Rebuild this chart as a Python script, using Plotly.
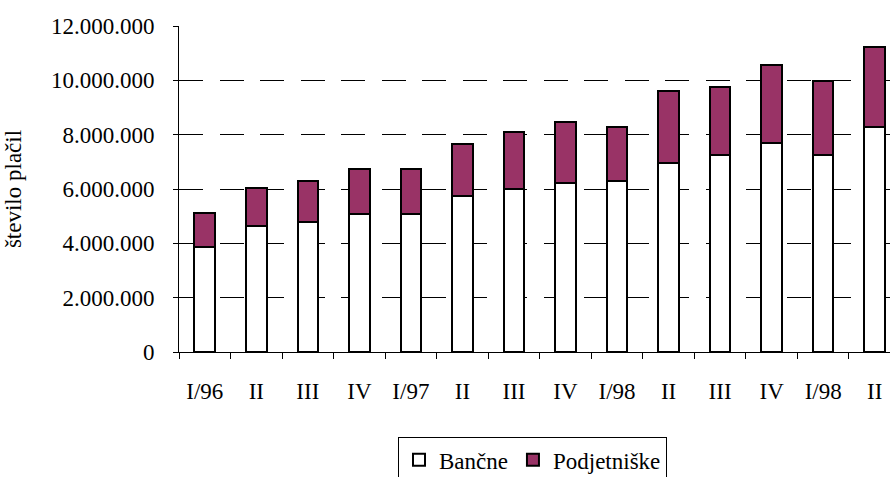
import plotly.graph_objects as go

categories = ["I/96", "II", "III", "IV", "I/97", "II", "III", "IV", "I/98", "II", "III", "IV", "I/98", "II"]
bancne = [3875000, 4640000, 4800000, 5080000, 5080000, 5760000, 5990000, 6230000, 6290000, 6970000, 7270000, 7710000, 7270000, 8300000]
totals = [5107000, 6050000, 6290000, 6730000, 6730000, 7640000, 8080000, 8450000, 8300000, 9590000, 9740000, 10550000, 9960000, 11240000]
podjetniske = [t - b for t, b in zip(totals, bancne)]
y_ticks = [0, 2000000, 4000000, 6000000, 8000000, 10000000, 12000000]
y_tick_text = ["0", "2.000.000", "4.000.000", "6.000.000", "8.000.000", "10.000.000", "12.000.000"]

x = list(range(len(categories)))
FONT = "Liberation Serif"
FS = 23

fig = go.Figure()
fig.add_trace(go.Bar(x=x, y=bancne, name="Bančne", width=0.4,
                     marker=dict(color="white", line=dict(color="black", width=2))))
fig.add_trace(go.Bar(x=x, y=podjetniske, name="Podjetniške", width=0.4,
                     marker=dict(color="#993366", line=dict(color="black", width=2))))

fig.update_layout(
    barmode="stack",
    width=890, height=477,
    margin=dict(l=179, r=0, t=26, b=125, autoexpand=False),
    paper_bgcolor="white", plot_bgcolor="white",
    font=dict(family=FONT, size=FS, color="black"),
    showlegend=True,
    legend=dict(orientation="h", x=0.308, xanchor="left", y=-0.262, yanchor="top",
                bordercolor="black", borderwidth=1, font=dict(size=FS, family=FONT),
                itemwidth=30, traceorder="normal"),
)
fig.update_xaxes(
    range=[-0.5, 13.297], tickmode="array", tickvals=x, ticktext=categories,
    ticks="", showgrid=False, zeroline=False, automargin=False,
    showline=True, linecolor="black", linewidth=1,
    ticklabelstandoff=18,
    minor=dict(tickmode="array", tickvals=[i - 0.5 for i in range(len(categories) + 1)],
               ticks="outside", ticklen=6, tickcolor="black", tickwidth=1, showgrid=False),
)
fig.update_yaxes(
    range=[0, 12000000], tickmode="array", tickvals=y_ticks, ticktext=y_tick_text,
    ticks="outside", ticklen=5, tickcolor="black", automargin=False,
    showline=True, linecolor="black", linewidth=1, zeroline=False,
    showgrid=True, gridcolor="black", gridwidth=1, griddash="24px,16.5px",
    ticklabelstandoff=14,
    title=dict(text="število plačil", standoff=22, font=dict(size=FS, family=FONT)),
)

fig.write_html("out.html", config={"displayModeBar": False},
               post_script="document.body.style.margin='0';")
